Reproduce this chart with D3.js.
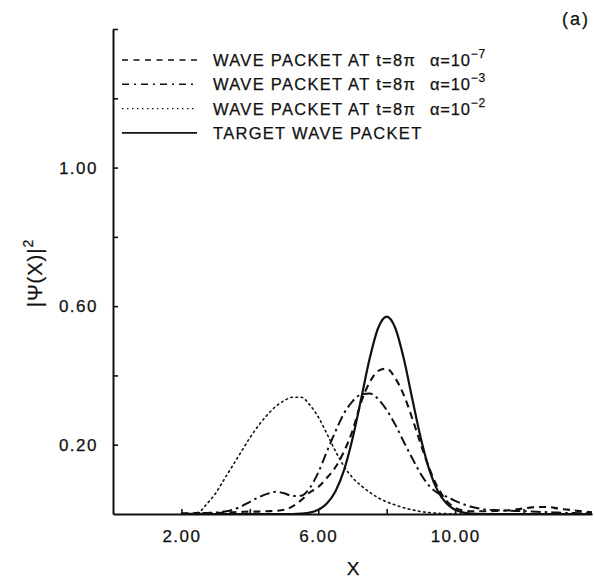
<!DOCTYPE html>
<html>
<head>
<meta charset="utf-8">
<script src="https://cdn.jsdelivr.net/npm/d3@7"></script>
<style>
  body { margin: 0; background: #fff; }
  svg text { font-family: "Liberation Sans", Arial, sans-serif; fill: #111; stroke: #111; stroke-width: 0.25; }
</style>
</head>
<body>
<div id="graphic"></div>
<script>
// grid of x positions
var xs = [2.00, 2.25, 2.50, 2.75, 3.00, 3.25, 3.50, 3.75, 4.00, 4.25, 4.50, 4.75,
          5.00, 5.25, 5.50, 5.75, 6.00, 6.25, 6.50, 6.75, 7.00, 7.25, 7.50, 7.75,
          8.00, 8.25, 8.50, 8.75, 9.00, 9.25, 9.50, 9.75, 10.00, 10.25, 10.50, 10.75,
          11.00, 11.25, 11.50, 11.75, 12.00, 12.25, 12.50, 12.75, 13.00, 13.25, 13.50, 13.75, 14.00];

// alpha = 1e-7  (dashed)
var packet7 = [0.002, 0.002, 0.003, 0.003, 0.003, 0.004, 0.005, 0.006, 0.007, 0.007, 0.008, 0.009,
               0.012, 0.022, 0.040, 0.062, 0.078, 0.104, 0.135, 0.180, 0.240, 0.322, 0.380, 0.413,
               0.420, 0.392, 0.343, 0.275, 0.200, 0.130, 0.075, 0.038, 0.018, 0.010, 0.008, 0.008,
               0.008, 0.009, 0.010, 0.013, 0.016, 0.019, 0.020, 0.020, 0.016, 0.013, 0.010, 0.007, 0.005];

// alpha = 1e-3  (dash-dot)
var packet3 = [0.001, 0.001, 0.002, 0.003, 0.004, 0.007, 0.012, 0.022, 0.035, 0.048, 0.058, 0.064,
               0.060, 0.052, 0.053, 0.075, 0.120, 0.180, 0.238, 0.290, 0.325, 0.345, 0.348, 0.332,
               0.300, 0.258, 0.208, 0.160, 0.115, 0.080, 0.060, 0.050, 0.038, 0.028, 0.020, 0.015,
               0.012, 0.011, 0.010, 0.009, 0.008, 0.007, 0.006, 0.005, 0.004, 0.003, 0.003, 0.002, 0.002];

// alpha = 1e-2  (dotted)
var packet2 = [0.000, 0.001, 0.005, 0.030, 0.060, 0.100, 0.140, 0.180, 0.220, 0.255, 0.285, 0.310,
               0.327, 0.337, 0.337, 0.315, 0.280, 0.232, 0.182, 0.138, 0.105, 0.082, 0.063, 0.047,
               0.035, 0.026, 0.018, 0.012, 0.007, 0.004, 0.002, 0.001, 0.000, 0.000, 0.000, 0.000,
               0.000, 0.000, 0.000, 0.000, 0.000, 0.000, 0.000, 0.000, 0.000, 0.000, 0.000, 0.000, 0.000];

// target wave packet (solid)
var target = [0, 0, 0, 0, 0, 0, 0, 0, 0, 0, 0, 0,
              0, 0, 0.001, 0.004, 0.012, 0.030, 0.065, 0.126, 0.217, 0.331, 0.448, 0.537,
              0.570, 0.537, 0.448, 0.331, 0.217, 0.126, 0.065, 0.030, 0.012, 0.004, 0.001, 0,
              0, 0, 0, 0, 0, 0, 0, 0, 0, 0, 0, 0, 0];

var xTicks = [2, 4, 6, 8, 10, 12];
var xLabeled = [2, 6, 10];
var yTicks = [0.2, 0.4, 0.6, 0.8, 1.0, 1.2, 1.4];
var yLabeled = [0.2, 0.6, 1.0];

var legendNames = ["WAVE PACKET AT t=8\u03c0", "WAVE PACKET AT t=8\u03c0", "WAVE PACKET AT t=8\u03c0", "TARGET WAVE PACKET"];
var legendExp = ["\u22127", "\u22123", "\u22122", null];

var W = 594, H = 578;
var svg = d3.select("#graphic").append("svg")
            .attr("width", W)
            .attr("height", H);

var x = d3.scaleLinear().domain([0, 14]).range([113, 592]);
var y = d3.scaleLinear().domain([0, 1.4]).range([514, 29]);

var styles = [
  { dash: "7,5", width: 2.1, legDash: "6,5.5" },
  { dash: "10,4,2.5,4", width: 2.0, legDash: "7,5,2,5" },
  { dash: "1.6,3.6", width: 1.6, legDash: "1.4,3.6" },
  { dash: null, width: 2.2, legDash: null }
];
var series = [packet7, packet3, packet2, target];

// axes
var yAxis = d3.axisLeft(y)
              .tickValues(yTicks)
              .tickSize(-5)
              .tickSizeOuter(0)
              .tickPadding(15)
              .tickFormat(function(d) { return yLabeled.some(function(v) { return Math.abs(v - d) < 1e-9; }) ? d3.format(".2f")(d) : ""; });
var xAxis = d3.axisBottom(x)
              .tickValues(xTicks)
              .tickSize(-5)
              .tickSizeOuter(0)
              .tickPadding(16)
              .tickFormat(function(d) { return xLabeled.indexOf(d) >= 0 ? d3.format(".2f")(d) : ""; });

var gy = svg.append("g").attr("transform", "translate(" + x(0) + ",0)").call(yAxis);
var gx = svg.append("g").attr("transform", "translate(0," + y(0) + ")").call(xAxis);
[gx, gy].forEach(function(g) {
  g.select(".domain").attr("stroke", "#111").attr("stroke-width", 2);
  g.selectAll(".tick line").attr("stroke", "#111").attr("stroke-width", 1.6);
  g.selectAll(".tick text").attr("font-size", 17).attr("letter-spacing", 1.5)
   .attr("font-family", "'Liberation Sans', Arial, sans-serif").attr("fill", "#111");
});

// curves
var line = d3.line()
             .x(function(d, i) { return x(xs[i]); })
             .y(function(d) { return y(d); })
             .curve(d3.curveMonotoneX);

series.forEach(function(s, k) {
  svg.append("path")
     .datum(s)
     .attr("d", line)
     .attr("fill", "none")
     .attr("stroke", "#111")
     .attr("stroke-width", styles[k].width)
     .attr("stroke-dasharray", styles[k].dash)
     .attr("stroke-linecap", k == 2 ? "round" : "butt");
});

// legend
var leg = svg.append("g");
legendNames.forEach(function(name, k) {
  var ly = 60 + k * 24.3;
  leg.append("line")
     .attr("x1", 122).attr("x2", 197)
     .attr("y1", ly).attr("y2", ly)
     .attr("stroke", "#111")
     .attr("stroke-width", k == 2 ? 1.3 : 1.6)
     .attr("stroke-dasharray", styles[k].legDash);
  leg.append("text")
     .attr("x", 213).attr("y", ly + 6)
     .attr("font-size", 16.5)
     .attr("letter-spacing", 1.3)
     .text(name);
  if (legendExp[k]) {
    var t = leg.append("text").attr("x", 430).attr("y", ly + 6).attr("font-size", 16.5).attr("letter-spacing", 0.8);
    t.append("tspan").text("\u03b1=10");
    t.append("tspan").attr("dy", -8).attr("font-size", 12).text(legendExp[k]);
  }
});

// panel label
svg.append("text").attr("x", 562).attr("y", 25).attr("font-size", 18).attr("letter-spacing", 2).text("(a)");

// axis titles
svg.append("text")
   .attr("x", 353).attr("y", 575)
   .attr("text-anchor", "middle")
   .attr("font-size", 19)
   .text("X");

var yl = svg.append("text")
   .attr("transform", "translate(42,273) rotate(-90)")
   .attr("text-anchor", "middle")
   .attr("font-size", 20)
   .attr("letter-spacing", 1);
yl.append("tspan").text("|\u03a8(X)|");
yl.append("tspan").attr("dy", -9).attr("font-size", 14).text("2");
</script>
</body>
</html>
